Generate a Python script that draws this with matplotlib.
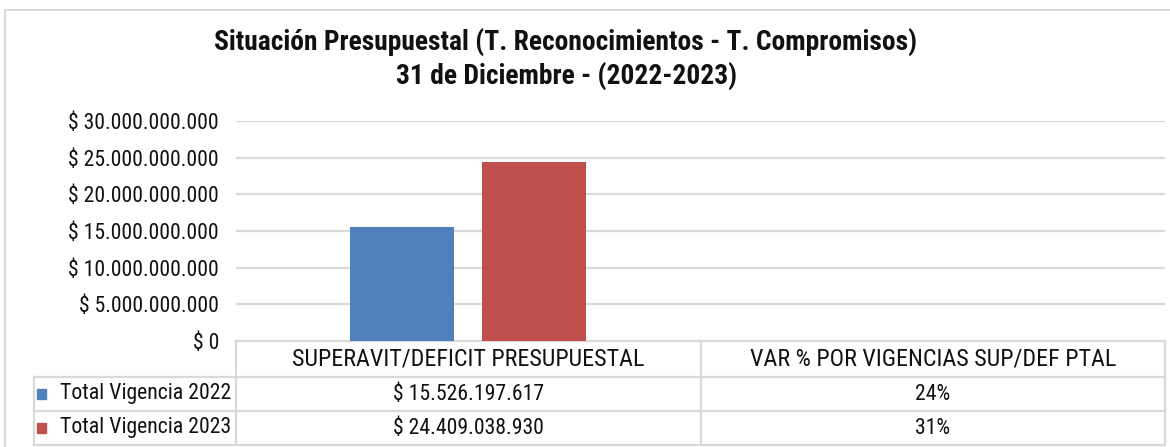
import matplotlib
matplotlib.use("Agg")
import matplotlib.pyplot as plt
from matplotlib.transforms import blended_transform_factory
from matplotlib.font_manager import fontManager

# --- data -------------------------------------------------------------------
categories = ["SUPERAVIT/DEFICIT PRESUPUESTAL", "VAR % POR VIGENCIAS SUP/DEF PTAL"]
series_names = ["Total Vigencia 2022", "Total Vigencia 2023"]
values_2022 = [15526197617, 0.24]
values_2023 = [24409038930, 0.31]
table_2022 = ["$ 15.526.197.617", "24%"]
table_2023 = ["$ 24.409.038.930", "31%"]
y_ticks = [0, 5e9, 10e9, 15e9, 20e9, 25e9, 30e9]
title_lines = ["Situación Presupuestal (T. Reconocimientos - T. Compromisos)",
               "31 de Diciembre - (2022-2023)"]

colors = ["#4F81BD", "#C0504D"]
grid_col = "#D9D9D9"
text_col = "#111111"

available = {f.name for f in fontManager.ttflist}
family = [f for f in ["Roboto Condensed", "Archivo Narrow", "Liberation Sans", "DejaVu Sans"]
          if f in available]
plt.rcParams["font.family"] = family


def money(v):
    return "$ " + f"{int(v):,}".replace(",", ".")


W, H = 1170, 447
fig = plt.figure(figsize=(W / 100, H / 100), dpi=100)
renderer = fig.canvas.get_renderer()


def fit_size(txt, width_px, weight="normal"):
    """Font size (pt) at which txt spans width_px pixels."""
    probe = fig.text(0, 0, txt, fontsize=20, fontweight=weight)
    w = probe.get_window_extent(renderer).width
    probe.remove()
    return 20 * width_px / w


header_size = fit_size(categories[0], 352)
value_size = fit_size(table_2022[0], 151)
legend_size = fit_size(series_names[0], 171)
tick_size = fit_size(money(y_ticks[-1]), 151)
title_size = fit_size(title_lines[0], 702, "bold")

# overlay in pixel coordinates for the frame and table rows
ov = fig.add_axes([0, 0, 1, 1])
ov.set_xlim(0, W)
ov.set_ylim(H, 0)
ov.axis("off")

# chart frame
ov.plot([5, 5, W + 5], [H + 5, 10, 10], color=grid_col, lw=1.5, clip_on=False)

# plot area
x0, x1, ytop, ybot = 236, 1165, 121, 341
ax = fig.add_axes([x0 / W, 1 - ybot / H, (x1 - x0) / W, (ybot - ytop) / H])
ax.set_xlim(-0.5, len(categories) - 0.5)
ax.set_ylim(0, 30e9)
ax.set_yticks(y_ticks)
ax.set_yticklabels([money(t) for t in y_ticks], fontsize=tick_size, color=text_col)
ax.tick_params(axis="y", length=0, pad=17 * 72 / 100)
ax.set_xticks([])
ax.grid(axis="y", color=grid_col, lw=1.6)
ax.set_axisbelow(True)
for s in ax.spines.values():
    s.set_visible(False)

bw, off = 0.223, 0.142
xs = list(range(len(categories)))
ax.bar([x - off for x in xs], values_2022, width=bw, color=colors[0], zorder=3)
ax.bar([x + off for x in xs], values_2023, width=bw, color=colors[1], zorder=3)

# title
fig.text(566 / W, 1 - 42 / H, title_lines[0], ha="center", va="center",
         fontsize=title_size, fontweight="bold", color=text_col)
fig.text(566 / W, 1 - 76 / H, title_lines[1], ha="center", va="center",
         fontsize=title_size, fontweight="bold", color=text_col)

# data table under the axis
tr = blended_transform_factory(ax.transData, ov.transData)
rows = [341, 377, 411, 445]
lkw = dict(color=grid_col, lw=1.6, clip_on=False)
edges = [-0.5 + i for i in range(len(categories) + 1)]
ov.plot([x0, x1], [rows[0], rows[0]], **lkw)
for r in rows[1:]:
    ov.plot([34, x1], [r, r], **lkw)
for e in edges:
    ax.plot([e, e], [rows[0], rows[-1]], transform=tr, **lkw)
ov.plot([34, 34], [rows[1], rows[-1]], **lkw)

tkw = dict(ha="center", va="center", color=text_col)
for i, c in enumerate(categories):
    ax.text(i, (rows[0] + rows[1]) / 2, c, transform=tr, fontsize=header_size, **tkw)
    ax.text(i, (rows[1] + rows[2]) / 2, table_2022[i], transform=tr, fontsize=value_size, **tkw)
    ax.text(i, (rows[2] + rows[3]) / 2, table_2023[i], transform=tr, fontsize=value_size, **tkw)

# legend keys in the first column of the table
for j, name in enumerate(series_names):
    yc = (rows[j + 1] + rows[j + 2]) / 2
    ov.add_patch(plt.Rectangle((37, yc - 5), 9, 10, color=colors[j]))
    ov.text(60, yc, name, ha="left", va="center", fontsize=legend_size, color=text_col)

fig.savefig("out.png", dpi=100)
